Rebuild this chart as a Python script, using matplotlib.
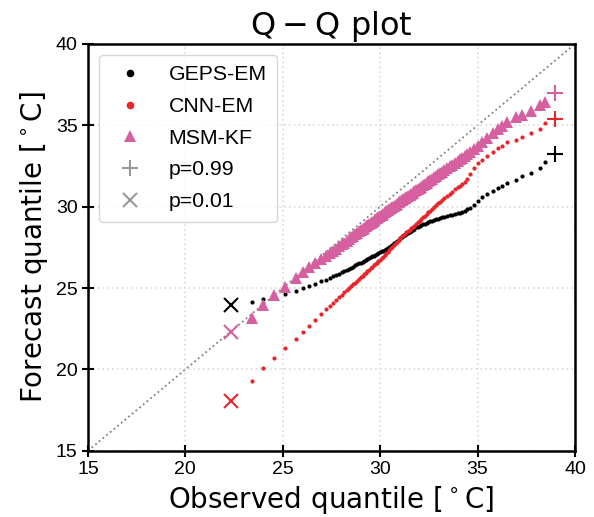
import numpy as np
import matplotlib
matplotlib.use("Agg")
import matplotlib.pyplot as plt
from matplotlib.lines import Line2D

plt.rcParams['font.family'] = ['Liberation Sans', 'DejaVu Sans']
plt.rcParams['mathtext.fontset'] = 'dejavusans'

# observed quantiles (p = 0.01 ... 0.99)
obs = [22.34, 23.43, 24.00, 24.56, 25.13, 25.68, 26.05, 26.35, 26.67, 26.96,
       27.20, 27.40, 27.58, 27.74, 27.89, 28.03, 28.16, 28.28, 28.40, 28.51,
       28.62, 28.72, 28.82, 28.92, 29.01, 29.10, 29.19, 29.27, 29.35, 29.43,
       29.51, 29.59, 29.67, 29.75, 29.83, 29.91, 29.99, 30.07, 30.15, 30.23,
       30.31, 30.39, 30.47, 30.55, 30.63, 30.71, 30.79, 30.87, 30.95, 31.03,
       31.11, 31.19, 31.27, 31.35, 31.43, 31.51, 31.59, 31.67, 31.75, 31.84,
       31.93, 32.02, 32.11, 32.20, 32.29, 32.38, 32.48, 32.58, 32.68, 32.78,
       32.88, 32.98, 33.08, 33.18, 33.30, 33.43, 33.56, 33.70, 33.84, 33.97,
       34.08, 34.20, 34.33, 34.47, 34.62, 34.80, 35.00, 35.22, 35.50, 35.80,
       36.05, 36.23, 36.53, 36.97, 37.26, 37.72, 38.20, 38.46, 38.97]

geps = [23.97, 24.13, 24.34, 24.50, 24.64, 24.84, 24.98, 25.12, 25.26, 25.42,
        25.52, 25.63, 25.72, 25.81, 25.89, 25.96, 26.04, 26.11, 26.19, 26.26,
        26.32, 26.39, 26.45, 26.51, 26.57, 26.62, 26.68, 26.73, 26.78, 26.83,
        26.89, 26.94, 26.99, 27.04, 27.09, 27.14, 27.19, 27.25, 27.30, 27.36,
        27.42, 27.47, 27.53, 27.60, 27.67, 27.75, 27.83, 27.90, 27.98, 28.05,
        28.13, 28.19, 28.26, 28.33, 28.39, 28.46, 28.52, 28.59, 28.65, 28.73,
        28.78, 28.83, 28.87, 28.92, 28.96, 29.01, 29.06, 29.11, 29.15, 29.18,
        29.22, 29.26, 29.30, 29.34, 29.38, 29.42, 29.46, 29.51, 29.55, 29.59,
        29.62, 29.68, 29.75, 29.83, 29.92, 30.13, 30.36, 30.57, 30.76, 30.97,
        31.14, 31.26, 31.48, 31.66, 31.86, 32.10, 32.37, 32.77, 33.22]

cnn = [18.07, 19.30, 20.06, 20.73, 21.30, 21.88, 22.30, 22.70, 23.05, 23.40,
       23.70, 23.92, 24.11, 24.28, 24.44, 24.60, 24.74, 24.87, 25.00, 25.11,
       25.23, 25.34, 25.45, 25.56, 25.66, 25.76, 25.86, 25.95, 26.04, 26.12,
       26.21, 26.30, 26.39, 26.48, 26.57, 26.66, 26.75, 26.84, 26.93, 27.03,
       27.13, 27.24, 27.34, 27.45, 27.55, 27.65, 27.76, 27.86, 27.97, 28.07,
       28.17, 28.25, 28.34, 28.42, 28.50, 28.58, 28.67, 28.75, 28.84, 28.94,
       29.04, 29.14, 29.24, 29.34, 29.44, 29.54, 29.65, 29.76, 29.87, 29.98,
       30.09, 30.20, 30.31, 30.41, 30.52, 30.65, 30.78, 30.92, 31.06, 31.18,
       31.29, 31.41, 31.54, 31.71, 32.01, 32.37, 32.71, 32.88, 33.10, 33.36,
       33.58, 33.73, 33.96, 34.10, 34.30, 34.50, 34.78, 35.13, 35.37]

msm = [22.30, 23.17, 23.97, 24.58, 25.07, 25.64, 26.00, 26.27, 26.57, 26.81,
       26.97, 27.14, 27.29, 27.43, 27.56, 27.68, 27.79, 27.90, 28.01, 28.11,
       28.21, 28.30, 28.39, 28.48, 28.56, 28.64, 28.72, 28.79, 28.86, 28.94,
       29.01, 29.08, 29.15, 29.22, 29.30, 29.37, 29.44, 29.51, 29.58, 29.65,
       29.71, 29.78, 29.85, 29.92, 29.99, 30.05, 30.12, 30.19, 30.26, 30.33,
       30.39, 30.46, 30.53, 30.60, 30.67, 30.73, 30.80, 30.87, 30.94, 31.01,
       31.09, 31.17, 31.24, 31.32, 31.40, 31.47, 31.56, 31.64, 31.73, 31.81,
       31.90, 31.98, 32.07, 32.15, 32.25, 32.37, 32.48, 32.59, 32.71, 32.82,
       32.92, 33.02, 33.13, 33.25, 33.38, 33.53, 33.75, 33.95, 34.22, 34.50,
       34.75, 34.93, 35.22, 35.53, 35.64, 35.90, 36.25, 36.46, 37.00]

names = ['GEPS-EM', 'CNN-EM', 'MSM-KF']
colors = ['black', '#e8252b', '#d6609f']
markers = ['o', 'o', '^']
sizes = [3, 3, 8]

obs = np.array(obs)
series = [np.array(geps), np.array(cnn), np.array(msm)]

fig, ax = plt.subplots(figsize=(5.94, 5.17), dpi=100)
fig.subplots_adjust(left=0.148, right=0.968, top=0.915, bottom=0.128)

ax.plot([15, 40], [15, 40], ':', color='gray', lw=1.3, zorder=1)

for y, c, m, s in zip(series, colors, markers, sizes):
    ax.plot(obs[1:-1], y[1:-1], m, color=c, ms=s, mew=0, ls='none', zorder=2)
    ax.plot(obs[-1], y[-1], '+', color=c, ms=12, mew=1.5, zorder=3)
    ax.plot(obs[0], y[0], 'x', color=c, ms=9.5, mew=1.5, zorder=3)

ax.set_xlim(15, 40)
ax.set_ylim(15, 40)
ax.set_xticks([15, 20, 25, 30, 35, 40])
ax.set_yticks([15, 20, 25, 30, 35, 40])
ax.tick_params(direction='inout', length=8, width=1.5, labelsize=14)
ax.grid(True, ls=':', color='0.87', lw=1.3)
for sp in ax.spines.values():
    sp.set_linewidth(1.8)

ax.set_xlabel(r'$\mathrm{Observed\ quantile\ [^\circ C]}$', fontsize=20)
ax.set_ylabel(r'$\mathrm{Forecast\ quantile\ [^\circ C]}$', fontsize=20)
ax.set_title(r'$\mathrm{Q-Q\ plot}$', fontsize=23)

handles = [Line2D([], [], marker='o', color='black', ls='none', ms=5.5, mew=0),
           Line2D([], [], marker='o', color=colors[1], ls='none', ms=5.5, mew=0),
           Line2D([], [], marker='^', color=colors[2], ls='none', ms=9, mew=0),
           Line2D([], [], marker='+', color='0.6', ls='none', ms=12, mew=1.5),
           Line2D([], [], marker='x', color='0.6', ls='none', ms=9.5, mew=1.5)]
labels = names + ['p=0.99', 'p=0.01']
ax.legend(handles, labels, loc='upper left', fontsize=15.3,
          labelspacing=0.6, borderpad=0.5)

fig.savefig('out.png', dpi=100)
